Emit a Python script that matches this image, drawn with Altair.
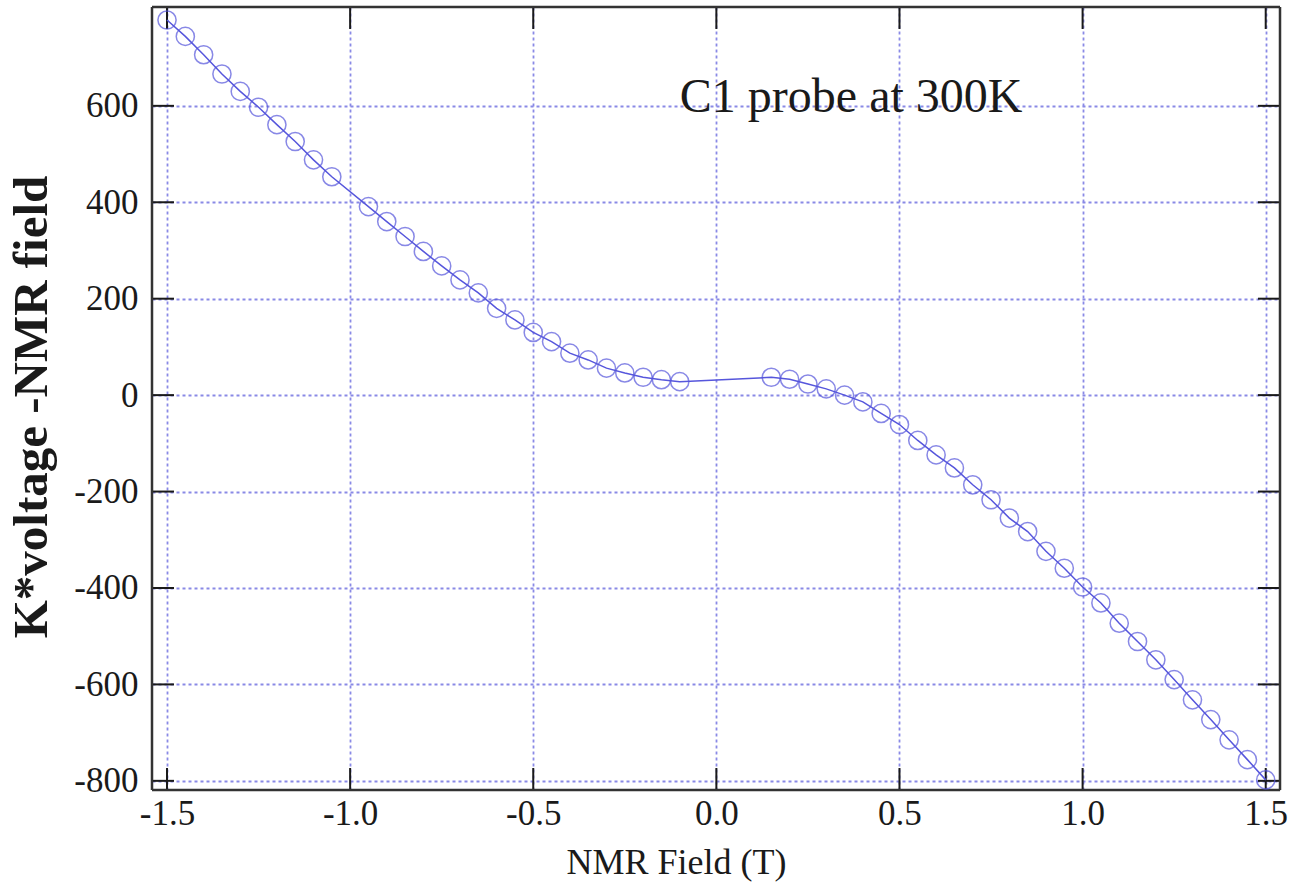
import altair as alt
import pandas as pd

# Data (NMR field in T, K*voltage - NMR field)
left_x = [-1.5, -1.45, -1.4, -1.35, -1.3, -1.25, -1.2, -1.15, -1.1, -1.05,
          -0.95, -0.9, -0.85, -0.8, -0.75, -0.7, -0.65, -0.6, -0.55, -0.5,
          -0.45, -0.4, -0.35, -0.3, -0.25, -0.2, -0.15, -0.1]
left_y = [778, 744, 706, 666, 630, 597, 561, 526, 488, 453,
          391, 360, 329, 298, 268, 239, 212, 180, 156, 130,
          111, 87, 73, 56, 46, 37, 32, 28]
right_x = [0.15, 0.2, 0.25, 0.3, 0.35, 0.4, 0.45, 0.5,
           0.55, 0.6, 0.65, 0.7, 0.75, 0.8, 0.85, 0.9, 0.95, 1.0,
           1.05, 1.1, 1.15, 1.2, 1.25, 1.3, 1.35, 1.4, 1.45, 1.5]
right_y = [37, 33, 23, 13, 0, -14, -38, -61,
           -94, -124, -151, -186, -217, -255, -283, -324, -359, -398,
           -431, -473, -511, -549, -590, -632, -673, -715, -756, -798]

x_ticks = [-1.5, -1.0, -0.5, 0.0, 0.5, 1.0, 1.5]
y_ticks = [-800, -600, -400, -200, 0, 200, 400, 600]

annotation = ["C1 probe at 300K"]
ann_x = [0.368]
ann_y = [617]

x_domain = [-1.541, 1.539]
y_domain = [-819, 805]

W, H = 1128, 783
BLUE = "#5656dc"
GRID = "#8a8ae6"
INK = "#1a1a1a"
FONT = "Liberation Serif"
HYPHEN = "replace(datum.label, '\u2212', '-')"

df = pd.DataFrame({"x": left_x + right_x, "y": left_y + right_y})
df["order"] = range(len(df))

xs = alt.Scale(domain=x_domain, nice=False, zero=False)
ys = alt.Scale(domain=y_domain, nice=False, zero=False)

x_axis = alt.Axis(values=x_ticks, format=".1f", labelExpr=HYPHEN, grid=True,
                  gridColor=GRID, gridDash=[3, 3], gridWidth=1.8, ticks=False,
                  tickSize=0, domain=False, labelFont=FONT, labelFontSize=35,
                  labelColor=INK, labelPadding=6,
                  title="NMR Field (T)", titleFont=FONT, titleFontSize=36,
                  titleFontWeight="normal", titleColor=INK,
                  titleX=524, titleY=83, titleAlign="center",
                  titleBaseline="alphabetic")
y_axis = alt.Axis(values=y_ticks, labelExpr=HYPHEN, grid=True, gridColor=GRID,
                  gridDash=[3, 3], gridWidth=1.8, ticks=False, tickSize=0,
                  domain=False, labelFont=FONT, labelFontSize=35,
                  labelColor=INK, labelPadding=14,
                  title="K*voltage -NMR field", titleFont=FONT,
                  titleFontSize=49, titleFontWeight="bold", titleColor=INK,
                  titleX=-121, titleY=H / 2 + 8, titleAngle=-90,
                  titleAlign="center", titleBaseline="middle")

base = alt.Chart(df)

line = base.mark_line(color=BLUE, strokeWidth=1.5).encode(
    x=alt.X("x:Q", scale=xs, axis=x_axis),
    y=alt.Y("y:Q", scale=ys, axis=y_axis),
    order="order:Q",
)
points = base.mark_point(shape="circle", filled=False, color=BLUE,
                         strokeWidth=1.5, size=330).encode(
    x=alt.X("x:Q", scale=xs), y=alt.Y("y:Q", scale=ys)
)

xt = pd.DataFrame({"t": x_ticks})
yt = pd.DataFrame({"t": y_ticks})
bottom_ticks = alt.Chart(xt).mark_rule(color=INK, strokeWidth=2).encode(
    x=alt.X("t:Q", scale=xs), y=alt.value(H), y2=alt.value(H - 22))
top_ticks = alt.Chart(xt).mark_rule(color=INK, strokeWidth=2).encode(
    x=alt.X("t:Q", scale=xs), y=alt.value(0), y2=alt.value(22))
left_ticks = alt.Chart(yt).mark_rule(color=INK, strokeWidth=2).encode(
    y=alt.Y("t:Q", scale=ys), x=alt.value(0), x2=alt.value(22))
right_ticks = alt.Chart(yt).mark_rule(color=INK, strokeWidth=2).encode(
    y=alt.Y("t:Q", scale=ys), x=alt.value(W), x2=alt.value(W - 22))

frame_src = pd.DataFrame({"k": [0]})
frame = [
    alt.Chart(frame_src).mark_rule(color="#333333", strokeWidth=2.5).encode(
        x=alt.value(0), x2=alt.value(W), y=alt.value(0)),
    alt.Chart(frame_src).mark_rule(color="#333333", strokeWidth=2.5).encode(
        x=alt.value(0), x2=alt.value(W), y=alt.value(H)),
    alt.Chart(frame_src).mark_rule(color="#333333", strokeWidth=2.5).encode(
        y=alt.value(0), y2=alt.value(H), x=alt.value(0)),
    alt.Chart(frame_src).mark_rule(color="#333333", strokeWidth=2.5).encode(
        y=alt.value(0), y2=alt.value(H), x=alt.value(W)),
]

ann = alt.Chart(pd.DataFrame({"x": ann_x, "y": ann_y, "t": annotation})).mark_text(
    font=FONT, fontSize=48, color=INK, align="center",
    baseline="middle").encode(
    x=alt.X("x:Q", scale=xs), y=alt.Y("y:Q", scale=ys), text="t:N")

chart = alt.layer(bottom_ticks, top_ticks, left_ticks, right_ticks, *frame,
                  line, points, ann).properties(
    width=W, height=H,
    autosize=alt.AutoSizeParams(type="none"),
    padding={"left": 152, "top": 7, "right": 12, "bottom": 101},
).configure_view(stroke=None).configure(background="white")

chart.save("out.html", embed_options={"renderer": "svg", "actions": False})
